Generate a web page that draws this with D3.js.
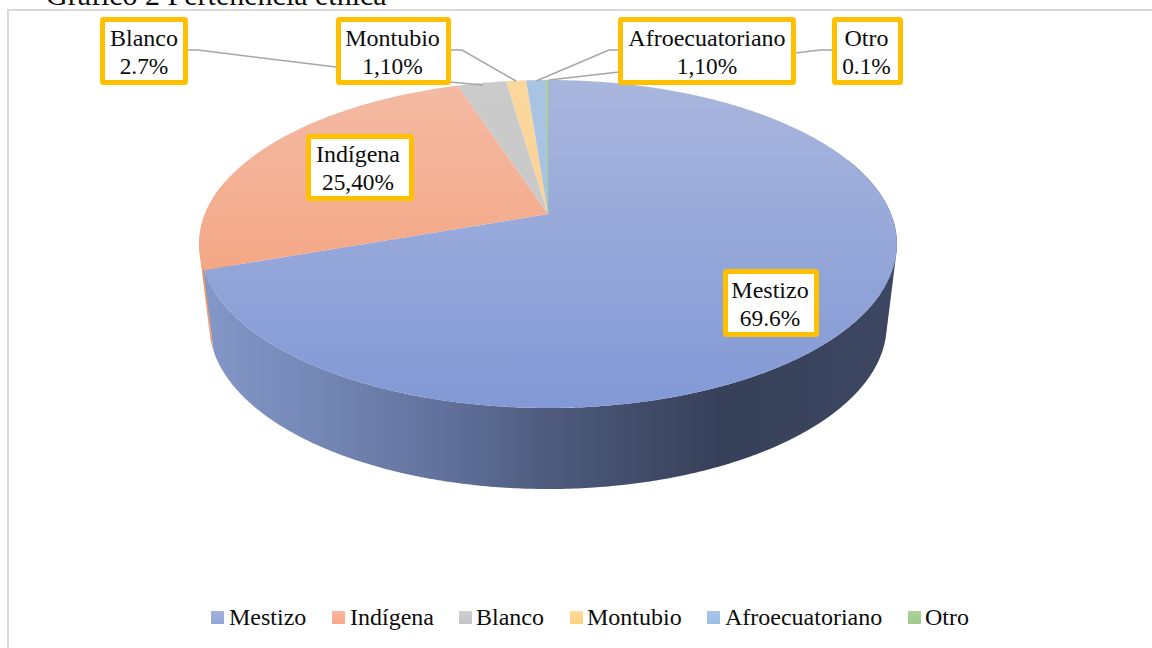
<!DOCTYPE html>
<html>
<head>
<meta charset="utf-8">
<script src="https://cdn.jsdelivr.net/npm/d3@7"></script>
<style>
html,body{margin:0;padding:0;background:#fff;overflow:hidden}
svg{display:block}
text{font-family:"Liberation Serif","Times New Roman",serif;fill:#0d0d0d}
</style>
</head>
<body>
<svg id="c" width="1152" height="648"></svg>
<script>
// ---- data ----
const titleText = "Gráfico 2 Pertenencia étnica";
const categories = ["Mestizo","Indígena","Blanco","Montubio","Afroecuatoriano","Otro"];
const values = [69.6,25.4,2.7,1.1,1.1,0.1];
const valueLabels = ["69.6%","25,40%","2.7%","1,10%","1,10%","0.1%"];

// ---- styles ----
const topColors = ["#a9b6dd","#f3baa4","#cbcbcb","#fbd79c","#a9c4e3","#abd096"];
const bottomColors = ["#8299d6","#f59a70","#c6c6c6","#f9cf88","#a3c0e2","#a3cb8b"];
const legendTop = ["#a3b1dc","#fab8a0","#cfcfcf","#ffdc9a","#a9c6e9","#acd29a"];
const legendBottom = ["#93a5d8","#f9a888","#c4c4c4","#fdd080","#9dbde6","#a0ca8c"];

// ---- layout ----
const boxes = [[723,269,819,337],[306,134,414,201],[100,17,188,85],[336,17,451,85],[618,17,796,85],[832,17,903,85]];
const labelDx = [-1,-2,0,-1,0,-1];
const labelDy = [0,-1,0,0,0,0];
const leaders = [
  [[188,50],[198,50],[336,67]],
  [[450,82],[483,85]],
  [[451,50],[462,50],[516,81]],
  [[619,50],[609,50],[536,81]],
  [[832,50],[820,50],[795,53]],
  [[619,72],[549,80]]
];
const legendSwatchX = [211,332,459,570,707,908];
const legendTextX = [229,350,476,587,725,925];

const svg = d3.select("#c");
const defs = svg.append("defs");
const FONT = 24, VALUE_FONT = 23.4, TITLE_FONT = 30;

// perspective projection of the disc
const K = 0.183, B = 158.5;
const project = (theta, cy, A) => {
  const x = Math.sin(theta), y = Math.cos(theta), d = 1 + K * y;
  return [548 + A * x / d, cy - B * y / d];
};
const upper = t => project(t, 214, 343);
const lower = t => project(t, 295, 333);

const arcs = d3.pie().sort(null).startAngle(0).endAngle(2*Math.PI)(values);

// gradients
categories.forEach((c,i)=>{
  const g = defs.append("linearGradient").attr("id","top"+i)
    .attr("gradientUnits","userSpaceOnUse").attr("x1",0).attr("x2",0).attr("y1",80).attr("y2",408);
  g.append("stop").attr("offset",0).attr("stop-color",topColors[i]);
  g.append("stop").attr("offset",1).attr("stop-color",bottomColors[i]);
  const l = defs.append("linearGradient").attr("id","leg"+i)
    .attr("x1",0).attr("x2",0).attr("y1",0).attr("y2",1);
  l.append("stop").attr("offset",0).attr("stop-color",legendTop[i]);
  l.append("stop").attr("offset",1).attr("stop-color",legendBottom[i]);
});
const wallStops = [[0,"#8397c8"],[0.18,"#7385b3"],[0.36,"#5f6f99"],[0.5,"#4e5b7d"],[0.64,"#404b68"],[0.75,"#374059"],[1,"#3d4761"]];
const wg = defs.append("linearGradient").attr("id","wall")
  .attr("gradientUnits","userSpaceOnUse").attr("x1",205).attr("x2",895).attr("y1",0).attr("y2",0);
wallStops.forEach(s=>wg.append("stop").attr("offset",s[0]).attr("stop-color",s[1]));

// frame
svg.append("path").attr("d","M8,648V10H1152").attr("fill","none").attr("stroke","#d9d9d9").attr("stroke-width",2);

// title
svg.append("text").attr("x",46).attr("y",5).attr("font-size",TITLE_FONT).text(titleText);

// side walls: swept quads between upper and lower rim, all wound the same way
const wallPath = (a0, a1) => {
  const p = d3.path(), n = Math.ceil((a1-a0)/0.01);
  for (let i=0;i<n;i++){
    const t0 = a0+(a1-a0)*i/n, e = Math.min(a0+(a1-a0)*(i+1.5)/n, a1);
    let q = [upper(t0),upper(e),lower(e),lower(t0)];
    if (d3.polygonArea(q) < 0) q = q.reverse();
    p.moveTo(q[0][0],q[0][1]);
    q.slice(1).forEach(v=>p.lineTo(v[0],v[1]));
    p.closePath();
  }
  return p.toString();
};
const m = arcs[0];
svg.append("path").attr("d",wallPath(m.endAngle, m.endAngle+0.55)).attr("fill","#ec9a6c");
svg.append("path").attr("d",wallPath(1.2, m.endAngle)).attr("fill","url(#wall)");

// top face
const line = d3.line();
const g = svg.append("g");
g.selectAll("path").data(arcs).join("path")
  .attr("d", d => {
    const n = Math.max(2, Math.ceil((d.endAngle-d.startAngle)/0.01));
    const pts = [[548,214]];
    d3.range(n+1).forEach(i=>pts.push(upper(d.startAngle+(d.endAngle-d.startAngle)*i/n)));
    return line(pts)+"Z";
  })
  .attr("fill",(d,i)=>`url(#top${i})`)
  .attr("stroke",(d,i)=>i===5?"#a5cc8f":"none")
  .attr("stroke-width",(d,i)=>i===5?0.6:0);

// leader lines
svg.selectAll("path.lead").data(leaders).join("path").attr("class","lead")
  .attr("d",d=>line(d)).attr("fill","none").attr("stroke","#a6a6a6").attr("stroke-width",1.5);

// data labels
const lab = svg.selectAll("g.lab").data(categories).join("g").attr("class","lab");
lab.append("rect")
  .attr("x",(d,i)=>boxes[i][0]+2.5).attr("y",(d,i)=>boxes[i][1]+2.5)
  .attr("width",(d,i)=>boxes[i][2]-boxes[i][0]-5).attr("height",(d,i)=>boxes[i][3]-boxes[i][1]-5)
  .attr("rx",1).attr("fill","#fff").attr("stroke","#ffc000").attr("stroke-width",5);
lab.append("text").attr("text-anchor","middle")
  .attr("x",(d,i)=>(boxes[i][0]+boxes[i][2])/2+labelDx[i]).attr("y",(d,i)=>boxes[i][1]+29+labelDy[i]).attr("font-size",FONT).text(d=>d);
lab.append("text").attr("text-anchor","middle")
  .attr("x",(d,i)=>(boxes[i][0]+boxes[i][2])/2+labelDx[i]).attr("y",(d,i)=>boxes[i][1]+57+labelDy[i]).attr("font-size",VALUE_FONT).text((d,i)=>valueLabels[i]);

// legend
const leg = svg.selectAll("g.leg").data(categories).join("g").attr("class","leg");
leg.append("rect").attr("x",(d,i)=>legendSwatchX[i]).attr("y",611).attr("width",13).attr("height",13).attr("fill",(d,i)=>`url(#leg${i})`);
leg.append("text").attr("x",(d,i)=>legendTextX[i]).attr("y",625).attr("font-size",FONT).text(d=>d);
</script>
</body>
</html>
